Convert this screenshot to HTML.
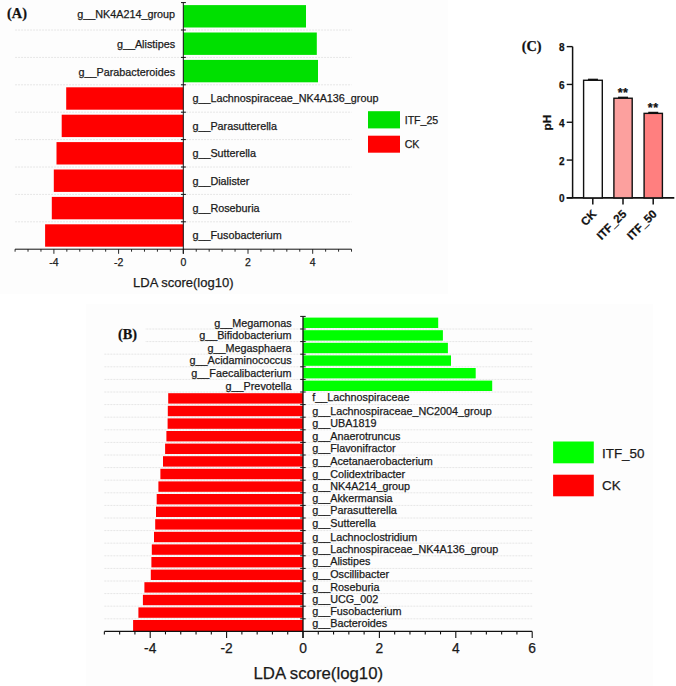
<!DOCTYPE html>
<html><head><meta charset="utf-8"><style>
html,body{margin:0;padding:0;background:#fff;width:676px;height:686px;overflow:hidden;}
svg{display:block;}
text{stroke:#1a1a1a;stroke-width:0.25px;paint-order:stroke;}
</style></head><body>
<svg width="676" height="686" viewBox="0 0 676 686">
<rect x="0" y="0" width="676" height="686" fill="#ffffff"/>
<rect x="0" y="0" width="448" height="294" fill="#fdfdfd"/>
<rect x="86" y="303.7" width="567" height="382.3" fill="#fdfdfd"/>
<line x1="15.08" y1="30" x2="351.52" y2="30" stroke="#e6e6e6" stroke-width="1" stroke-dasharray="2 1"/>
<line x1="15.08" y1="57.4" x2="351.52" y2="57.4" stroke="#e6e6e6" stroke-width="1" stroke-dasharray="2 1"/>
<line x1="15.08" y1="84.8" x2="351.52" y2="84.8" stroke="#e6e6e6" stroke-width="1" stroke-dasharray="2 1"/>
<line x1="15.08" y1="112.2" x2="351.52" y2="112.2" stroke="#e6e6e6" stroke-width="1" stroke-dasharray="2 1"/>
<line x1="15.08" y1="139.6" x2="351.52" y2="139.6" stroke="#e6e6e6" stroke-width="1" stroke-dasharray="2 1"/>
<line x1="15.08" y1="167" x2="351.52" y2="167" stroke="#e6e6e6" stroke-width="1" stroke-dasharray="2 1"/>
<line x1="15.08" y1="194.4" x2="351.52" y2="194.4" stroke="#e6e6e6" stroke-width="1" stroke-dasharray="2 1"/>
<line x1="15.08" y1="221.8" x2="351.52" y2="221.8" stroke="#e6e6e6" stroke-width="1" stroke-dasharray="2 1"/>
<rect x="183.3" y="5.1" width="122.7" height="22.4" fill="#00e000"/>
<rect x="183.3" y="32.5" width="133.5" height="22.4" fill="#00e000"/>
<rect x="183.3" y="59.9" width="134.7" height="22.4" fill="#00e000"/>
<rect x="66.2" y="87.3" width="117.1" height="22.4" fill="#ff0000"/>
<rect x="61.7" y="114.7" width="121.6" height="22.4" fill="#ff0000"/>
<rect x="56.5" y="142.1" width="126.8" height="22.4" fill="#ff0000"/>
<rect x="53.8" y="169.5" width="129.5" height="22.4" fill="#ff0000"/>
<rect x="51.8" y="196.9" width="131.5" height="22.4" fill="#ff0000"/>
<rect x="45.1" y="224.3" width="138.2" height="22.4" fill="#ff0000"/>
<text x="175.1" y="18.2" text-anchor="end" font-family='"Liberation Sans", sans-serif' font-size="10.8" fill="#1a1a1a">g__NK4A214_group</text>
<text x="175.1" y="47.5" text-anchor="end" font-family='"Liberation Sans", sans-serif' font-size="10.8" fill="#1a1a1a">g__Alistipes</text>
<text x="175.1" y="75.5" text-anchor="end" font-family='"Liberation Sans", sans-serif' font-size="10.8" fill="#1a1a1a">g__Parabacteroides</text>
<text x="192.4" y="101.9" font-family='"Liberation Sans", sans-serif' font-size="10.8" fill="#1a1a1a">g__Lachnospiraceae_NK4A136_group</text>
<text x="192.4" y="130.2" font-family='"Liberation Sans", sans-serif' font-size="10.8" fill="#1a1a1a">g__Parasutterella</text>
<text x="192.4" y="157.1" font-family='"Liberation Sans", sans-serif' font-size="10.8" fill="#1a1a1a">g__Sutterella</text>
<text x="192.4" y="184.8" font-family='"Liberation Sans", sans-serif' font-size="10.8" fill="#1a1a1a">g__Dialister</text>
<text x="192.4" y="212.2" font-family='"Liberation Sans", sans-serif' font-size="10.8" fill="#1a1a1a">g__Roseburia</text>
<text x="192.4" y="239.1" font-family='"Liberation Sans", sans-serif' font-size="10.8" fill="#1a1a1a">g__Fusobacterium</text>
<line x1="183.3" y1="2.6" x2="183.3" y2="253.8" stroke="#111" stroke-width="1"/>
<line x1="181" y1="2.6" x2="185.9" y2="2.6" stroke="#111" stroke-width="1"/>
<line x1="181" y1="30" x2="185.9" y2="30" stroke="#111" stroke-width="1"/>
<line x1="181" y1="57.4" x2="185.9" y2="57.4" stroke="#111" stroke-width="1"/>
<line x1="181" y1="84.8" x2="185.9" y2="84.8" stroke="#111" stroke-width="1"/>
<line x1="181" y1="112.2" x2="185.9" y2="112.2" stroke="#111" stroke-width="1"/>
<line x1="181" y1="139.6" x2="185.9" y2="139.6" stroke="#111" stroke-width="1"/>
<line x1="181" y1="167" x2="185.9" y2="167" stroke="#111" stroke-width="1"/>
<line x1="181" y1="194.4" x2="185.9" y2="194.4" stroke="#111" stroke-width="1"/>
<line x1="181" y1="221.8" x2="185.9" y2="221.8" stroke="#111" stroke-width="1"/>
<line x1="15.08" y1="249.2" x2="351.52" y2="249.2" stroke="#111" stroke-width="1"/>
<line x1="15.08" y1="249.2" x2="15.08" y2="251.7" stroke="#111" stroke-width="0.9"/>
<line x1="28.02" y1="249.2" x2="28.02" y2="251.7" stroke="#111" stroke-width="0.9"/>
<line x1="40.96" y1="249.2" x2="40.96" y2="251.7" stroke="#111" stroke-width="0.9"/>
<line x1="53.9" y1="249.2" x2="53.9" y2="253.8" stroke="#111" stroke-width="0.9"/>
<line x1="66.84" y1="249.2" x2="66.84" y2="251.7" stroke="#111" stroke-width="0.9"/>
<line x1="79.78" y1="249.2" x2="79.78" y2="251.7" stroke="#111" stroke-width="0.9"/>
<line x1="92.72" y1="249.2" x2="92.72" y2="251.7" stroke="#111" stroke-width="0.9"/>
<line x1="105.66" y1="249.2" x2="105.66" y2="251.7" stroke="#111" stroke-width="0.9"/>
<line x1="118.6" y1="249.2" x2="118.6" y2="253.8" stroke="#111" stroke-width="0.9"/>
<line x1="131.54" y1="249.2" x2="131.54" y2="251.7" stroke="#111" stroke-width="0.9"/>
<line x1="144.48" y1="249.2" x2="144.48" y2="251.7" stroke="#111" stroke-width="0.9"/>
<line x1="157.42" y1="249.2" x2="157.42" y2="251.7" stroke="#111" stroke-width="0.9"/>
<line x1="170.36" y1="249.2" x2="170.36" y2="251.7" stroke="#111" stroke-width="0.9"/>
<line x1="183.3" y1="249.2" x2="183.3" y2="253.8" stroke="#111" stroke-width="0.9"/>
<line x1="196.24" y1="249.2" x2="196.24" y2="251.7" stroke="#111" stroke-width="0.9"/>
<line x1="209.18" y1="249.2" x2="209.18" y2="251.7" stroke="#111" stroke-width="0.9"/>
<line x1="222.12" y1="249.2" x2="222.12" y2="251.7" stroke="#111" stroke-width="0.9"/>
<line x1="235.06" y1="249.2" x2="235.06" y2="251.7" stroke="#111" stroke-width="0.9"/>
<line x1="248" y1="249.2" x2="248" y2="253.8" stroke="#111" stroke-width="0.9"/>
<line x1="260.94" y1="249.2" x2="260.94" y2="251.7" stroke="#111" stroke-width="0.9"/>
<line x1="273.88" y1="249.2" x2="273.88" y2="251.7" stroke="#111" stroke-width="0.9"/>
<line x1="286.82" y1="249.2" x2="286.82" y2="251.7" stroke="#111" stroke-width="0.9"/>
<line x1="299.76" y1="249.2" x2="299.76" y2="251.7" stroke="#111" stroke-width="0.9"/>
<line x1="312.7" y1="249.2" x2="312.7" y2="253.8" stroke="#111" stroke-width="0.9"/>
<line x1="325.64" y1="249.2" x2="325.64" y2="251.7" stroke="#111" stroke-width="0.9"/>
<line x1="338.58" y1="249.2" x2="338.58" y2="251.7" stroke="#111" stroke-width="0.9"/>
<line x1="351.52" y1="249.2" x2="351.52" y2="251.7" stroke="#111" stroke-width="0.9"/>
<text x="53.9" y="266" text-anchor="middle" font-family='"Liberation Sans", sans-serif' font-size="10.5" fill="#1a1a1a">-4</text>
<text x="118.6" y="266" text-anchor="middle" font-family='"Liberation Sans", sans-serif' font-size="10.5" fill="#1a1a1a">-2</text>
<text x="183.3" y="266" text-anchor="middle" font-family='"Liberation Sans", sans-serif' font-size="10.5" fill="#1a1a1a">0</text>
<text x="248" y="266" text-anchor="middle" font-family='"Liberation Sans", sans-serif' font-size="10.5" fill="#1a1a1a">2</text>
<text x="312.7" y="266" text-anchor="middle" font-family='"Liberation Sans", sans-serif' font-size="10.5" fill="#1a1a1a">4</text>
<text x="183.3" y="286.7" text-anchor="middle" font-family='"Liberation Sans", sans-serif' font-size="13" fill="#1a1a1a">LDA score(log10)</text>
<rect x="368" y="111.2" width="32" height="17.2" fill="#00e000"/>
<rect x="368" y="135.7" width="32" height="17" fill="#ff0000"/>
<text x="404.7" y="123.7" font-family='"Liberation Sans", sans-serif' font-size="10.6" fill="#1a1a1a">ITF_25</text>
<text x="404.7" y="147.9" font-family='"Liberation Sans", sans-serif' font-size="10.6" fill="#1a1a1a">CK</text>
<text x="7.1" y="17.6" font-family='"Liberation Serif", serif' font-weight="bold" font-size="14.3" fill="#111">(A)</text>
<line x1="104.36" y1="329" x2="532.2" y2="329" stroke="#e6e6e6" stroke-width="1" stroke-dasharray="2 1"/>
<line x1="104.36" y1="341.6" x2="532.2" y2="341.6" stroke="#e6e6e6" stroke-width="1" stroke-dasharray="2 1"/>
<line x1="104.36" y1="354.2" x2="532.2" y2="354.2" stroke="#e6e6e6" stroke-width="1" stroke-dasharray="2 1"/>
<line x1="104.36" y1="366.8" x2="532.2" y2="366.8" stroke="#e6e6e6" stroke-width="1" stroke-dasharray="2 1"/>
<line x1="104.36" y1="379.4" x2="532.2" y2="379.4" stroke="#e6e6e6" stroke-width="1" stroke-dasharray="2 1"/>
<line x1="104.36" y1="392" x2="532.2" y2="392" stroke="#e6e6e6" stroke-width="1" stroke-dasharray="2 1"/>
<line x1="104.36" y1="404.6" x2="532.2" y2="404.6" stroke="#e6e6e6" stroke-width="1" stroke-dasharray="2 1"/>
<line x1="104.36" y1="417.2" x2="532.2" y2="417.2" stroke="#e6e6e6" stroke-width="1" stroke-dasharray="2 1"/>
<line x1="104.36" y1="429.8" x2="532.2" y2="429.8" stroke="#e6e6e6" stroke-width="1" stroke-dasharray="2 1"/>
<line x1="104.36" y1="442.4" x2="532.2" y2="442.4" stroke="#e6e6e6" stroke-width="1" stroke-dasharray="2 1"/>
<line x1="104.36" y1="455" x2="532.2" y2="455" stroke="#e6e6e6" stroke-width="1" stroke-dasharray="2 1"/>
<line x1="104.36" y1="467.6" x2="532.2" y2="467.6" stroke="#e6e6e6" stroke-width="1" stroke-dasharray="2 1"/>
<line x1="104.36" y1="480.2" x2="532.2" y2="480.2" stroke="#e6e6e6" stroke-width="1" stroke-dasharray="2 1"/>
<line x1="104.36" y1="492.8" x2="532.2" y2="492.8" stroke="#e6e6e6" stroke-width="1" stroke-dasharray="2 1"/>
<line x1="104.36" y1="505.4" x2="532.2" y2="505.4" stroke="#e6e6e6" stroke-width="1" stroke-dasharray="2 1"/>
<line x1="104.36" y1="518" x2="532.2" y2="518" stroke="#e6e6e6" stroke-width="1" stroke-dasharray="2 1"/>
<line x1="104.36" y1="530.6" x2="532.2" y2="530.6" stroke="#e6e6e6" stroke-width="1" stroke-dasharray="2 1"/>
<line x1="104.36" y1="543.2" x2="532.2" y2="543.2" stroke="#e6e6e6" stroke-width="1" stroke-dasharray="2 1"/>
<line x1="104.36" y1="555.8" x2="532.2" y2="555.8" stroke="#e6e6e6" stroke-width="1" stroke-dasharray="2 1"/>
<line x1="104.36" y1="568.4" x2="532.2" y2="568.4" stroke="#e6e6e6" stroke-width="1" stroke-dasharray="2 1"/>
<line x1="104.36" y1="581" x2="532.2" y2="581" stroke="#e6e6e6" stroke-width="1" stroke-dasharray="2 1"/>
<line x1="104.36" y1="593.6" x2="532.2" y2="593.6" stroke="#e6e6e6" stroke-width="1" stroke-dasharray="2 1"/>
<line x1="104.36" y1="606.2" x2="532.2" y2="606.2" stroke="#e6e6e6" stroke-width="1" stroke-dasharray="2 1"/>
<line x1="104.36" y1="618.8" x2="532.2" y2="618.8" stroke="#e6e6e6" stroke-width="1" stroke-dasharray="2 1"/>
<rect x="104" y="320" width="41" height="28" fill="#fdfdfd"/>
<rect x="303" y="317.6" width="135.2" height="10.4" fill="#00ff00"/>
<rect x="303" y="330.2" width="139.9" height="10.4" fill="#00ff00"/>
<rect x="303" y="342.8" width="144.9" height="10.4" fill="#00ff00"/>
<rect x="303" y="355.4" width="148" height="10.4" fill="#00ff00"/>
<rect x="303" y="368" width="172.7" height="10.4" fill="#00ff00"/>
<rect x="303" y="380.6" width="189.2" height="10.4" fill="#00ff00"/>
<rect x="168.2" y="393.2" width="134.8" height="10.4" fill="#ff0000"/>
<rect x="167.8" y="405.8" width="135.2" height="10.4" fill="#ff0000"/>
<rect x="167.6" y="418.4" width="135.4" height="10.4" fill="#ff0000"/>
<rect x="166.4" y="431" width="136.6" height="10.4" fill="#ff0000"/>
<rect x="165.1" y="443.6" width="137.9" height="10.4" fill="#ff0000"/>
<rect x="163" y="456.2" width="140" height="10.4" fill="#ff0000"/>
<rect x="160.4" y="468.8" width="142.6" height="10.4" fill="#ff0000"/>
<rect x="158.4" y="481.4" width="144.6" height="10.4" fill="#ff0000"/>
<rect x="156.7" y="494" width="146.3" height="10.4" fill="#ff0000"/>
<rect x="156" y="506.6" width="147" height="10.4" fill="#ff0000"/>
<rect x="155.2" y="519.2" width="147.8" height="10.4" fill="#ff0000"/>
<rect x="154" y="531.8" width="149" height="10.4" fill="#ff0000"/>
<rect x="151.8" y="544.4" width="151.2" height="10.4" fill="#ff0000"/>
<rect x="151.4" y="557" width="151.6" height="10.4" fill="#ff0000"/>
<rect x="150.8" y="569.6" width="152.2" height="10.4" fill="#ff0000"/>
<rect x="144.4" y="582.2" width="158.6" height="10.4" fill="#ff0000"/>
<rect x="142.9" y="594.8" width="160.1" height="10.4" fill="#ff0000"/>
<rect x="138.4" y="607.4" width="164.6" height="10.4" fill="#ff0000"/>
<rect x="133.1" y="620" width="169.9" height="11.0" fill="#ff0000"/>
<text x="291.6" y="326.6" text-anchor="end" font-family='"Liberation Sans", sans-serif' font-size="10.8" fill="#1a1a1a">g__Megamonas</text>
<text x="291.6" y="339.1" text-anchor="end" font-family='"Liberation Sans", sans-serif' font-size="10.8" fill="#1a1a1a">g__Bifidobacterium</text>
<text x="291.6" y="352.2" text-anchor="end" font-family='"Liberation Sans", sans-serif' font-size="10.8" fill="#1a1a1a">g__Megasphaera</text>
<text x="291.6" y="364.2" text-anchor="end" font-family='"Liberation Sans", sans-serif' font-size="10.8" fill="#1a1a1a">g__Acidaminococcus</text>
<text x="291.6" y="376.7" text-anchor="end" font-family='"Liberation Sans", sans-serif' font-size="10.8" fill="#1a1a1a">g__Faecalibacterium</text>
<text x="291.6" y="389.6" text-anchor="end" font-family='"Liberation Sans", sans-serif' font-size="10.8" fill="#1a1a1a">g__Prevotella</text>
<text x="312.2" y="401.4" font-family='"Liberation Sans", sans-serif' font-size="10.8" fill="#1a1a1a">f__Lachnospiraceae</text>
<text x="312.2" y="414.5" font-family='"Liberation Sans", sans-serif' font-size="10.8" fill="#1a1a1a">g__Lachnospiraceae_NC2004_group</text>
<text x="312.2" y="427.3" font-family='"Liberation Sans", sans-serif' font-size="10.8" fill="#1a1a1a">g__UBA1819</text>
<text x="312.2" y="439.6" font-family='"Liberation Sans", sans-serif' font-size="10.8" fill="#1a1a1a">g__Anaerotruncus</text>
<text x="312.2" y="452.4" font-family='"Liberation Sans", sans-serif' font-size="10.8" fill="#1a1a1a">g__Flavonifractor</text>
<text x="312.2" y="464.6" font-family='"Liberation Sans", sans-serif' font-size="10.8" fill="#1a1a1a">g__Acetanaerobacterium</text>
<text x="312.2" y="477.5" font-family='"Liberation Sans", sans-serif' font-size="10.8" fill="#1a1a1a">g__Colidextribacter</text>
<text x="312.2" y="489.9" font-family='"Liberation Sans", sans-serif' font-size="10.8" fill="#1a1a1a">g__NK4A214_group</text>
<text x="312.2" y="501.7" font-family='"Liberation Sans", sans-serif' font-size="10.8" fill="#1a1a1a">g__Akkermansia</text>
<text x="312.2" y="514.2" font-family='"Liberation Sans", sans-serif' font-size="10.8" fill="#1a1a1a">g__Parasutterella</text>
<text x="312.2" y="527" font-family='"Liberation Sans", sans-serif' font-size="10.8" fill="#1a1a1a">g__Sutterella</text>
<text x="312.2" y="540.5" font-family='"Liberation Sans", sans-serif' font-size="10.8" fill="#1a1a1a">g__Lachnoclostridium</text>
<text x="312.2" y="553" font-family='"Liberation Sans", sans-serif' font-size="10.8" fill="#1a1a1a">g__Lachnospiraceae_NK4A136_group</text>
<text x="312.2" y="564.9" font-family='"Liberation Sans", sans-serif' font-size="10.8" fill="#1a1a1a">g__Alistipes</text>
<text x="312.2" y="577.7" font-family='"Liberation Sans", sans-serif' font-size="10.8" fill="#1a1a1a">g__Oscillibacter</text>
<text x="312.2" y="590.6" font-family='"Liberation Sans", sans-serif' font-size="10.8" fill="#1a1a1a">g__Roseburia</text>
<text x="312.2" y="603" font-family='"Liberation Sans", sans-serif' font-size="10.8" fill="#1a1a1a">g__UCG_002</text>
<text x="312.2" y="614.7" font-family='"Liberation Sans", sans-serif' font-size="10.8" fill="#1a1a1a">g__Fusobacterium</text>
<text x="312.2" y="626.7" font-family='"Liberation Sans", sans-serif' font-size="10.8" fill="#1a1a1a">g__Bacteroides</text>
<line x1="303" y1="316.4" x2="303" y2="637.9" stroke="#111" stroke-width="1.3"/>
<line x1="300.2" y1="316.4" x2="305.7" y2="316.4" stroke="#111" stroke-width="1"/>
<line x1="300.2" y1="329" x2="305.7" y2="329" stroke="#111" stroke-width="1"/>
<line x1="300.2" y1="341.6" x2="305.7" y2="341.6" stroke="#111" stroke-width="1"/>
<line x1="300.2" y1="354.2" x2="305.7" y2="354.2" stroke="#111" stroke-width="1"/>
<line x1="300.2" y1="366.8" x2="305.7" y2="366.8" stroke="#111" stroke-width="1"/>
<line x1="300.2" y1="379.4" x2="305.7" y2="379.4" stroke="#111" stroke-width="1"/>
<line x1="300.2" y1="392" x2="305.7" y2="392" stroke="#111" stroke-width="1"/>
<line x1="300.2" y1="404.6" x2="305.7" y2="404.6" stroke="#111" stroke-width="1"/>
<line x1="300.2" y1="417.2" x2="305.7" y2="417.2" stroke="#111" stroke-width="1"/>
<line x1="300.2" y1="429.8" x2="305.7" y2="429.8" stroke="#111" stroke-width="1"/>
<line x1="300.2" y1="442.4" x2="305.7" y2="442.4" stroke="#111" stroke-width="1"/>
<line x1="300.2" y1="455" x2="305.7" y2="455" stroke="#111" stroke-width="1"/>
<line x1="300.2" y1="467.6" x2="305.7" y2="467.6" stroke="#111" stroke-width="1"/>
<line x1="300.2" y1="480.2" x2="305.7" y2="480.2" stroke="#111" stroke-width="1"/>
<line x1="300.2" y1="492.8" x2="305.7" y2="492.8" stroke="#111" stroke-width="1"/>
<line x1="300.2" y1="505.4" x2="305.7" y2="505.4" stroke="#111" stroke-width="1"/>
<line x1="300.2" y1="518" x2="305.7" y2="518" stroke="#111" stroke-width="1"/>
<line x1="300.2" y1="530.6" x2="305.7" y2="530.6" stroke="#111" stroke-width="1"/>
<line x1="300.2" y1="543.2" x2="305.7" y2="543.2" stroke="#111" stroke-width="1"/>
<line x1="300.2" y1="555.8" x2="305.7" y2="555.8" stroke="#111" stroke-width="1"/>
<line x1="300.2" y1="568.4" x2="305.7" y2="568.4" stroke="#111" stroke-width="1"/>
<line x1="300.2" y1="581" x2="305.7" y2="581" stroke="#111" stroke-width="1"/>
<line x1="300.2" y1="593.6" x2="305.7" y2="593.6" stroke="#111" stroke-width="1"/>
<line x1="300.2" y1="606.2" x2="305.7" y2="606.2" stroke="#111" stroke-width="1"/>
<line x1="300.2" y1="618.8" x2="305.7" y2="618.8" stroke="#111" stroke-width="1"/>
<line x1="104.36" y1="631.4" x2="532.2" y2="631.4" stroke="#111" stroke-width="1.3"/>
<line x1="104.36" y1="631.4" x2="104.36" y2="634.4" stroke="#111" stroke-width="1.1"/>
<line x1="119.64" y1="631.4" x2="119.64" y2="634.4" stroke="#111" stroke-width="1.1"/>
<line x1="134.92" y1="631.4" x2="134.92" y2="634.4" stroke="#111" stroke-width="1.1"/>
<line x1="150.2" y1="631.4" x2="150.2" y2="637.9" stroke="#111" stroke-width="1.1"/>
<line x1="165.48" y1="631.4" x2="165.48" y2="634.4" stroke="#111" stroke-width="1.1"/>
<line x1="180.76" y1="631.4" x2="180.76" y2="634.4" stroke="#111" stroke-width="1.1"/>
<line x1="196.04" y1="631.4" x2="196.04" y2="634.4" stroke="#111" stroke-width="1.1"/>
<line x1="211.32" y1="631.4" x2="211.32" y2="634.4" stroke="#111" stroke-width="1.1"/>
<line x1="226.6" y1="631.4" x2="226.6" y2="637.9" stroke="#111" stroke-width="1.1"/>
<line x1="241.88" y1="631.4" x2="241.88" y2="634.4" stroke="#111" stroke-width="1.1"/>
<line x1="257.16" y1="631.4" x2="257.16" y2="634.4" stroke="#111" stroke-width="1.1"/>
<line x1="272.44" y1="631.4" x2="272.44" y2="634.4" stroke="#111" stroke-width="1.1"/>
<line x1="287.72" y1="631.4" x2="287.72" y2="634.4" stroke="#111" stroke-width="1.1"/>
<line x1="303" y1="631.4" x2="303" y2="637.9" stroke="#111" stroke-width="1.1"/>
<line x1="318.28" y1="631.4" x2="318.28" y2="634.4" stroke="#111" stroke-width="1.1"/>
<line x1="333.56" y1="631.4" x2="333.56" y2="634.4" stroke="#111" stroke-width="1.1"/>
<line x1="348.84" y1="631.4" x2="348.84" y2="634.4" stroke="#111" stroke-width="1.1"/>
<line x1="364.12" y1="631.4" x2="364.12" y2="634.4" stroke="#111" stroke-width="1.1"/>
<line x1="379.4" y1="631.4" x2="379.4" y2="637.9" stroke="#111" stroke-width="1.1"/>
<line x1="394.68" y1="631.4" x2="394.68" y2="634.4" stroke="#111" stroke-width="1.1"/>
<line x1="409.96" y1="631.4" x2="409.96" y2="634.4" stroke="#111" stroke-width="1.1"/>
<line x1="425.24" y1="631.4" x2="425.24" y2="634.4" stroke="#111" stroke-width="1.1"/>
<line x1="440.52" y1="631.4" x2="440.52" y2="634.4" stroke="#111" stroke-width="1.1"/>
<line x1="455.8" y1="631.4" x2="455.8" y2="637.9" stroke="#111" stroke-width="1.1"/>
<line x1="471.08" y1="631.4" x2="471.08" y2="634.4" stroke="#111" stroke-width="1.1"/>
<line x1="486.36" y1="631.4" x2="486.36" y2="634.4" stroke="#111" stroke-width="1.1"/>
<line x1="501.64" y1="631.4" x2="501.64" y2="634.4" stroke="#111" stroke-width="1.1"/>
<line x1="516.92" y1="631.4" x2="516.92" y2="634.4" stroke="#111" stroke-width="1.1"/>
<line x1="532.2" y1="631.4" x2="532.2" y2="637.9" stroke="#111" stroke-width="1.1"/>
<text x="150.2" y="653" text-anchor="middle" font-family='"Liberation Sans", sans-serif' font-size="13.8" fill="#1a1a1a">-4</text>
<text x="226.6" y="653" text-anchor="middle" font-family='"Liberation Sans", sans-serif' font-size="13.8" fill="#1a1a1a">-2</text>
<text x="303" y="653" text-anchor="middle" font-family='"Liberation Sans", sans-serif' font-size="13.8" fill="#1a1a1a">0</text>
<text x="379.4" y="653" text-anchor="middle" font-family='"Liberation Sans", sans-serif' font-size="13.8" fill="#1a1a1a">2</text>
<text x="455.8" y="653" text-anchor="middle" font-family='"Liberation Sans", sans-serif' font-size="13.8" fill="#1a1a1a">4</text>
<text x="532.2" y="653" text-anchor="middle" font-family='"Liberation Sans", sans-serif' font-size="13.8" fill="#1a1a1a">6</text>
<text x="318.28" y="679.2" text-anchor="middle" font-family='"Liberation Sans", sans-serif' font-size="16.8" fill="#1a1a1a">LDA score(log10)</text>
<rect x="553.1" y="441.5" width="40.7" height="21.8" fill="#00ff00"/>
<rect x="553.1" y="474.7" width="40.7" height="21.6" fill="#ff0000"/>
<text x="602" y="458.2" font-family='"Liberation Sans", sans-serif' font-size="13.4" fill="#1a1a1a">ITF_50</text>
<text x="602" y="489.8" font-family='"Liberation Sans", sans-serif' font-size="13.4" fill="#1a1a1a">CK</text>
<text x="118" y="338.9" font-family='"Liberation Serif", serif' font-weight="bold" font-size="14.3" fill="#111">(B)</text>
<text x="521.7" y="51" font-family='"Liberation Serif", serif' font-weight="bold" font-size="14.3" fill="#111">(C)</text>
<line x1="572.6" y1="46.62" x2="572.6" y2="197.9" stroke="#111" stroke-width="1.5"/>
<line x1="566.7" y1="197.9" x2="572.6" y2="197.9" stroke="#111" stroke-width="1.4"/>
<text x="564.6" y="202.4" text-anchor="end" font-family='"Liberation Sans", sans-serif' font-weight="bold" font-size="10" fill="#111">0</text>
<line x1="566.7" y1="160.08" x2="572.6" y2="160.08" stroke="#111" stroke-width="1.4"/>
<text x="564.6" y="164.58" text-anchor="end" font-family='"Liberation Sans", sans-serif' font-weight="bold" font-size="10" fill="#111">2</text>
<line x1="566.7" y1="122.26" x2="572.6" y2="122.26" stroke="#111" stroke-width="1.4"/>
<text x="564.6" y="126.76" text-anchor="end" font-family='"Liberation Sans", sans-serif' font-weight="bold" font-size="10" fill="#111">4</text>
<line x1="566.7" y1="84.44" x2="572.6" y2="84.44" stroke="#111" stroke-width="1.4"/>
<text x="564.6" y="88.94" text-anchor="end" font-family='"Liberation Sans", sans-serif' font-weight="bold" font-size="10" fill="#111">6</text>
<line x1="566.7" y1="46.62" x2="572.6" y2="46.62" stroke="#111" stroke-width="1.4"/>
<text x="564.6" y="51.12" text-anchor="end" font-family='"Liberation Sans", sans-serif' font-weight="bold" font-size="10" fill="#111">8</text>
<line x1="566.7" y1="197.9" x2="674.3" y2="197.9" stroke="#111" stroke-width="1.6"/>
<rect x="583.6" y="80.28" width="18.7" height="117.62" fill="#ffffff" stroke="#111" stroke-width="1.4"/>
<line x1="587.95" y1="79.38" x2="597.95" y2="79.38" stroke="#111" stroke-width="1.4"/>
<rect x="613.9" y="98.24" width="18.3" height="99.66" fill="#fca09e" stroke="#111" stroke-width="1.4"/>
<line x1="618.05" y1="97.34" x2="628.05" y2="97.34" stroke="#111" stroke-width="1.4"/>
<rect x="644.1" y="113.37" width="18.3" height="84.53" fill="#ff7f7f" stroke="#111" stroke-width="1.4"/>
<line x1="648.25" y1="112.47" x2="658.25" y2="112.47" stroke="#111" stroke-width="1.4"/>
<line x1="592.8" y1="197.9" x2="592.8" y2="204.4" stroke="#111" stroke-width="1.5"/>
<line x1="623.0" y1="197.9" x2="623.0" y2="204.4" stroke="#111" stroke-width="1.5"/>
<line x1="653.2" y1="197.9" x2="653.2" y2="204.4" stroke="#111" stroke-width="1.5"/>
<text x="623.1" y="97" text-anchor="middle" font-family='"Liberation Sans", sans-serif' font-weight="bold" font-size="12.5" fill="#111" letter-spacing="0.6">**</text>
<text x="653.3" y="112.3" text-anchor="middle" font-family='"Liberation Sans", sans-serif' font-weight="bold" font-size="12.5" fill="#111" letter-spacing="0.6">**</text>
<text transform="translate(591.5,209) rotate(-45)" x="0" y="0" text-anchor="end" font-family='"Liberation Sans", sans-serif' font-weight="bold" font-size="11.5" fill="#111" dominant-baseline="hanging">CK</text>
<text transform="translate(621.5,209) rotate(-45)" x="0" y="0" text-anchor="end" font-family='"Liberation Sans", sans-serif' font-weight="bold" font-size="11.5" fill="#111" dominant-baseline="hanging">ITF_25</text>
<text transform="translate(651.8,209) rotate(-45)" x="0" y="0" text-anchor="end" font-family='"Liberation Sans", sans-serif' font-weight="bold" font-size="11.5" fill="#111" dominant-baseline="hanging">ITF_50</text>
<text transform="translate(550.5,122.6) rotate(-90)" x="0" y="0" text-anchor="middle" font-family='"Liberation Sans", sans-serif' font-weight="bold" font-size="11.7" fill="#111">pH</text>
</svg>
</body></html>
